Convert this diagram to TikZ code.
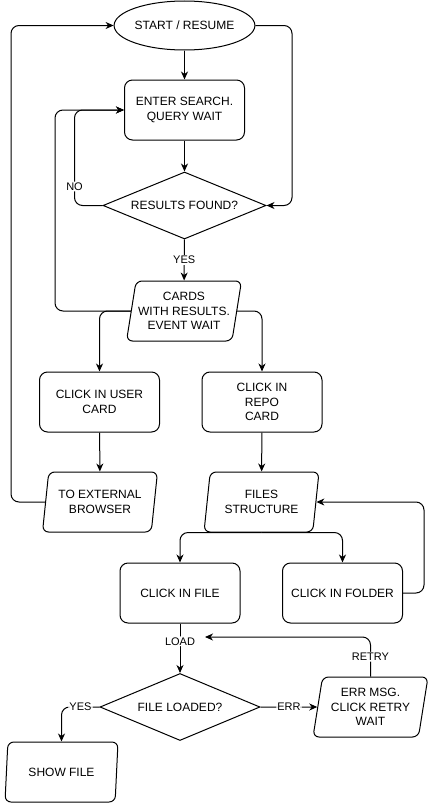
\documentclass[tikz,border=0pt]{standalone}
\usepackage{fontspec}
\setmainfont{Liberation Sans}
\usetikzlibrary{shapes.geometric,arrows.meta}

\begin{document}
\begin{tikzpicture}[x=1pt,y=-1pt,line width=1pt,
    every node/.style={font=\fontsize{12}{14.5}\selectfont,align=center,inner sep=2pt},
    box/.style={draw,rounded corners=8pt,minimum width=\boxwidth pt,minimum height=\boxheight pt},
    io/.style={draw,trapezium,trapezium left angle=77,trapezium right angle=103,
        trapezium stretches body,rounded corners=6pt,minimum width=115pt,minimum height=\boxheight pt},
    query/.style={draw,diamond,inner sep=0pt,minimum height=67pt},
    flow/.style={draw,rounded corners=8pt,-{Stealth[length=8pt,width=7pt,inset=2.5pt]}},
    lbl/.style={fill=white,font=\fontsize{11}{13}\selectfont,inner sep=1pt}]
    \pgfmathsetmacro{\boxwidth}{120}
    \pgfmathsetmacro{\boxheight}{60}
    \useasboundingbox (0,0) rectangle (433,803);
    % search part
    \node[draw,ellipse,inner sep=0pt,minimum width=121pt,minimum height=49pt] (start) at (184.5,25.5) {START / RESUME};
    \node[box] (enter) at (184.5,110) {ENTER SEARCH.\\QUERY WAIT};
    \node[query,aspect=2.43,minimum width=163pt] (found) at (184.5,205.5) {RESULTS FOUND?};
    \node[io] (cards) at (184,311) {CARDS\\WITH RESULTS.\\EVENT WAIT};
    \node[box] (user) at (99.5,402) {CLICK IN USER\\CARD};
    \node[box] (repo) at (262,402) {CLICK IN\\REPO\\CARD};
    \node[io] (ext) at (100,502) {TO EXTERNAL\\BROWSER};
    \node[io] (files) at (261.5,502) {FILES\\STRUCTURE};
    % file part
    \node[box] (file) at (180,593) {CLICK IN FILE};
    \node[box] (folder) at (342.5,593) {CLICK IN FOLDER};
    \node[query,aspect=2.39,minimum width=160pt] (loaded) at (180,707) {FILE LOADED?};
    \node[io] (err) at (370.5,707) {ERR MSG.\\CLICK RETRY\\WAIT};
    \node[io,minimum width=113pt] (show) at (61.5,772) {SHOW FILE};
    \coordinate (rim) at (11,0);
    \coordinate (lft) at (55,0);
    \coordinate (rgt) at (292,0);
    \coordinate (far) at (424,0);
    \coordinate (back) at (205,637);
    \draw[flow] (start) -- (enter);
    \draw[flow] (enter) -- (found);
    \draw[flow] (start.east) -- (start.east -| rgt) |- (found.east);
    \draw[flow] (found.west) -- ++(-28,0) |- node[lbl,pos=0.1]{NO} (enter.west);
    \draw[flow] (found) -- node[lbl]{YES} (cards);
    \draw[flow] (cards.west) -- (cards.west -| lft) |- (enter.west);
    \draw[flow] (cards.west) -| (user.north);
    \draw[flow] (cards.east) -| (repo.north);
    \draw[flow] (user) -- (ext);
    \draw[flow] (repo) -- (files);
    \draw[flow] (ext.west) -- (ext.west -| rim) |- (start.west);
    \draw[flow] (files.south) -| (file.north);
    \draw[flow] (files.south) -| (folder.north);
    \draw[flow] (folder.east) -- (folder.east -| far) |- (files.east);
    \draw[flow] (file) -- node[lbl,pos=0.36]{LOAD} (loaded);
    \draw[flow] (loaded.east) -- node[lbl]{ERR} (err.west);
    \draw[flow] (err.north) |- node[lbl,pos=0.25]{RETRY} (back);
    \draw[flow] (loaded.west) -| node[lbl,pos=0.25]{YES} (show.north);
\end{tikzpicture}
\end{document}
